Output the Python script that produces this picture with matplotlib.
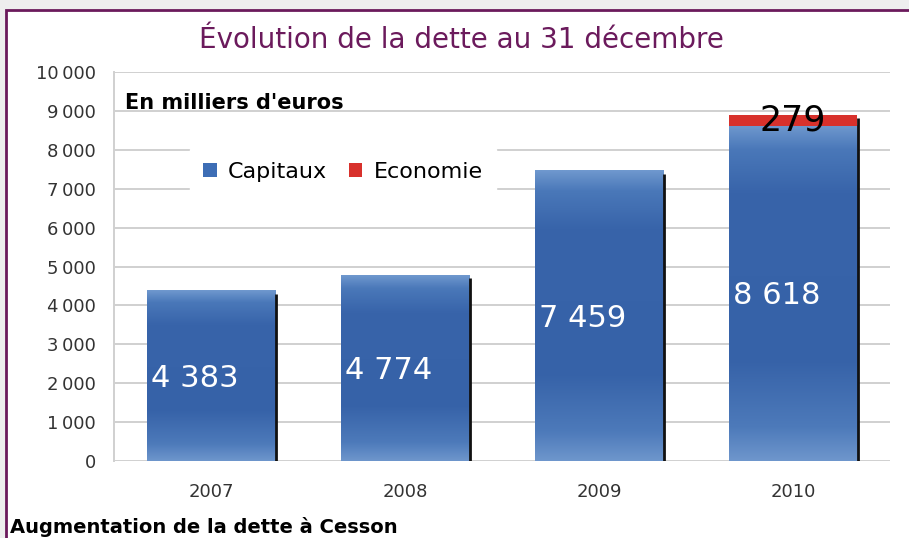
import numpy as np
import matplotlib
matplotlib.use("Agg")
from matplotlib import pyplot as plt
from matplotlib.colors import LinearSegmentedColormap
from matplotlib.patches import Rectangle, Patch

years = ["2007", "2008", "2009", "2010"]
capitaux = [4383, 4774, 7459, 8618]
economie = [0, 0, 0, 279]
yticks = [0, 1000, 2000, 3000, 4000, 5000, 6000, 7000, 8000, 9000, 10000]

purple = "#6b1a5c"
blue = "#3d6db5"
red = "#d8312c"

# vertical shading of the blue bars (bottom -> top)
blue_cmap = LinearSegmentedColormap.from_list("bars", [
    (0.0, "#6e96cc"), (0.1, "#4d7aba"), (0.3, "#3662a8"),
    (0.8, "#3864aa"), (0.93, "#4a78b9"), (1.0, "#6f98ce")])

fig = plt.figure(figsize=(9.09, 5.38), dpi=100)
fig.patch.set_facecolor("#eeeeee")

# white panel with purple frame
fig.patches.append(Rectangle((6 / 909, -0.1), 1.2, 1.1 - 10 / 538,
                             transform=fig.transFigure, facecolor="white",
                             edgecolor=purple, linewidth=2, zorder=-10))

ax = fig.add_axes([114 / 909, 1 - 461 / 538, 776 / 909, 389 / 538])
ax.set_facecolor("none")
ax.set_zorder(1)

x = np.arange(len(years))
w = 0.66
grad = np.linspace(0, 1, 256).reshape(-1, 1)

for i, (c, e) in enumerate(zip(capitaux, economie)):
    ax.imshow(grad, extent=[x[i] - w / 2, x[i] + w / 2, 0, c], origin="lower",
              aspect="auto", cmap=blue_cmap, zorder=2, interpolation="bilinear")
    top = c
    if e > 0:
        ax.bar(x[i], e, w, bottom=c, color=red, zorder=2, linewidth=0)
        top = c + e
    # dark shadow on the right side
    ax.vlines(x[i] + w / 2 + 0.006, 0, top - 80, color="#111111", lw=2, zorder=3)
    ax.text(x[i] - w / 2 + 0.02, c / 2 - 60, f"{c:,}".replace(",", " "),
            color="white", fontsize=22, ha="left", va="center", zorder=4)
    if e > 0:
        ax.text(x[i], c + e / 2, str(e), color="black", fontsize=25,
                ha="center", va="center", zorder=4)

ax.set_xlim(-0.5, 3.5)
ax.set_ylim(0, 10000)
ax.set_xticks(x)
ax.set_xticklabels(years)
ax.set_yticks(yticks)
ax.set_yticklabels([f"{v:,}".replace(",", "\u2009") for v in yticks])
ax.tick_params(axis="y", length=0, pad=13, labelsize=13, labelcolor="#333333")
ax.tick_params(axis="x", length=0, pad=16, labelsize=13, labelcolor="#333333")
ax.grid(axis="y", color="#d0d0d0", lw=1.4, zorder=0)
ax.set_axisbelow(True)
for s in ["top", "right", "bottom"]:
    ax.spines[s].set_visible(False)
ax.spines["left"].set_color("#d0d0d0")
ax.spines["left"].set_linewidth(1.4)

ax.text(0.014, 0.92, "En milliers d'euros", transform=ax.transAxes,
        fontsize=15, fontweight="bold", ha="left", va="center", zorder=4)

handles = [Patch(facecolor=blue, label="Capitaux"), Patch(facecolor=red, label="Economie")]
leg = ax.legend(handles=handles, ncol=2, loc="center", bbox_to_anchor=(0.295, 0.743),
                fontsize=16, frameon=True, fancybox=False, framealpha=1,
                edgecolor="white", handlelength=0.6, handleheight=0.6,
                handletextpad=0.5, columnspacing=1.0, borderpad=0.6)
leg.set_zorder(5)

fig.text(0.508, 1 - 40 / 538, "Évolution de la dette au 31 décembre",
         color=purple, fontsize=20, ha="center", va="center")
fig.text(10 / 909, 1 - 527 / 538, "Augmentation de la dette à Cesson",
         fontsize=14, fontweight="bold", ha="left", va="center")

plt.savefig("out.png", dpi=100)
